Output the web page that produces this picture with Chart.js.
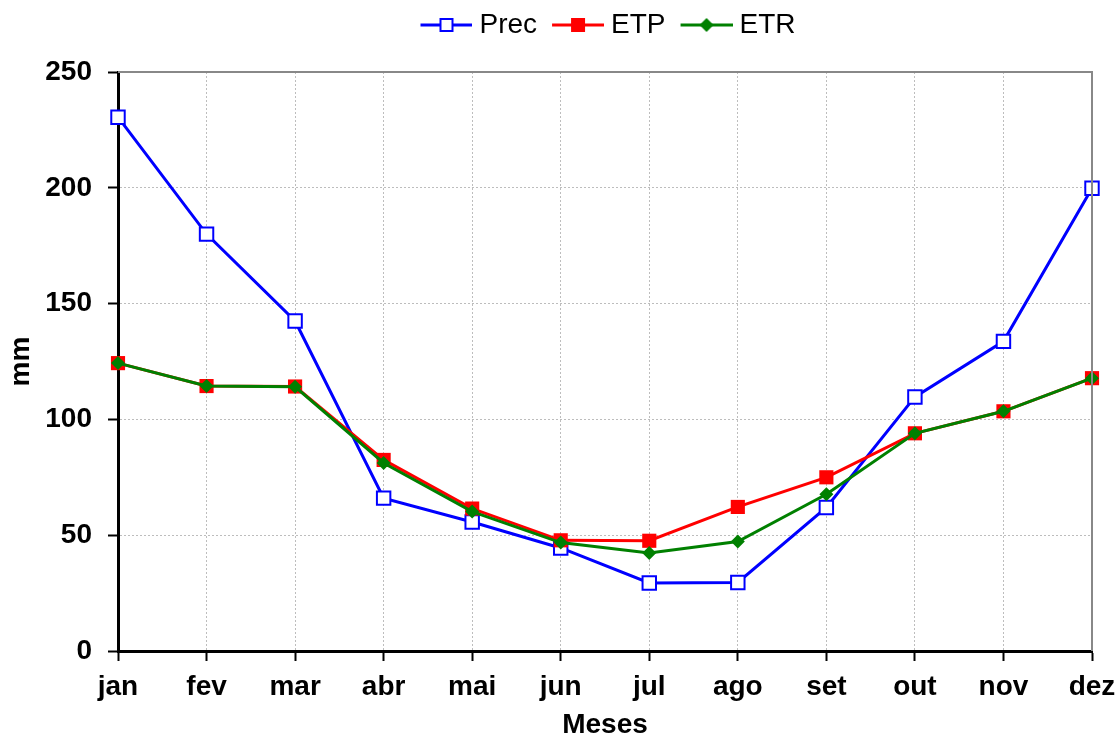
<!DOCTYPE html>
<html>
<head>
<meta charset="utf-8">
<script src="https://cdn.jsdelivr.net/npm/chart.js@4"></script>
<style>
  html, body { margin: 0; padding: 0; background: #fff; }
  #wrap { width: 1118px; height: 738px; }
</style>
</head>
<body>
<div id="wrap"><canvas id="chart" width="1118" height="738"></canvas></div>
<script>
// Months and monthly values (mm)
const months = ['jan', 'fev', 'mar', 'abr', 'mai', 'jun', 'jul', 'ago', 'set', 'out', 'nov', 'dez'];
const precValues = [230.5, 180, 142.5, 66, 55.7, 44.5, 29.4, 29.6, 62, 109.7, 133.7, 199.8];
const etpValues = [124.3, 114.4, 114.2, 82.5, 61.5, 47.8, 47.6, 62.2, 75, 94, 103.5, 117.8];
const etrValues = [124.3, 114.4, 114.1, 81.2, 60.2, 46.8, 42.3, 47.3, 67.7, 94, 103.5, 117.8];
const yTicks = [0, 50, 100, 150, 200, 250];

// Helper to build a legend symbol (line through a marker), with some blank room on the left
function legendIcon(color, kind) {
    const c = document.createElement('canvas');
    c.width = 63;
    c.height = 20;
    const ctx = c.getContext('2d');
    ctx.strokeStyle = color;
    ctx.lineWidth = 3;
    ctx.beginPath();
    ctx.moveTo(11, 10);
    ctx.lineTo(63, 10);
    ctx.stroke();
    if (kind === 'open') {
        ctx.fillStyle = '#fff';
        ctx.fillRect(31, 4, 12, 12);
        ctx.lineWidth = 2;
        ctx.strokeRect(31, 4, 12, 12);
    } else if (kind === 'square') {
        ctx.fillStyle = color;
        ctx.fillRect(30, 3, 14, 14);
    } else {
        ctx.fillStyle = color;
        ctx.beginPath();
        ctx.moveTo(37, 3);
        ctx.lineTo(44, 10);
        ctx.lineTo(37, 17);
        ctx.lineTo(30, 10);
        ctx.closePath();
        ctx.fill();
    }
    return c;
}

const icons = [legendIcon('#0000ff', 'open'), legendIcon('#ff0000', 'square'), legendIcon('#008000', 'diamond')];

// Gray frame on top and right, fixed legend height and offset
const framePlugin = {
    id: 'frame',
    beforeUpdate(chart) {
        const lg = chart.legend;
        if (lg && !lg._patched) {
            const fit = lg.fit.bind(lg);
            lg.fit = function () { fit(); this.height = 72; };
            const draw = lg.draw.bind(lg);
            lg.draw = function () {
                this.ctx.save();
                this.ctx.translate(60, 0);
                draw();
                this.ctx.restore();
            };
            lg._patched = true;
        }
    },
    afterDraw(chart) {
        const a = chart.chartArea;
        const ctx = chart.ctx;
        ctx.save();
        ctx.strokeStyle = '#888';
        ctx.lineWidth = 2;
        ctx.beginPath();
        ctx.moveTo(a.left, a.top);
        ctx.lineTo(a.right, a.top);
        ctx.lineTo(a.right, a.bottom);
        ctx.stroke();
        ctx.restore();
    }
};

const tickFont = { family: 'Liberation Sans, Arial, sans-serif', size: 28, weight: 'bold' };

new Chart(document.getElementById('chart').getContext('2d'), {
    type: 'line',
    data: {
        labels: months,
        datasets: [
            {
                label: 'Prec',
                data: precValues,
                borderColor: '#0000ff',
                backgroundColor: '#ffffff',
                borderWidth: 3,
                pointStyle: 'rect',
                pointRadius: 9.5,
                pointBorderWidth: 2,
                pointBorderColor: '#0000ff',
                pointBackgroundColor: '#ffffff',
                tension: 0,
                order: 2
            },
            {
                label: 'ETP',
                data: etpValues,
                borderColor: '#ff0000',
                backgroundColor: '#ff0000',
                borderWidth: 3,
                pointStyle: 'rect',
                pointRadius: 10,
                pointBorderWidth: 0,
                pointBackgroundColor: '#ff0000',
                tension: 0,
                order: 1
            },
            {
                label: 'ETR',
                data: etrValues,
                borderColor: '#008000',
                backgroundColor: '#008000',
                borderWidth: 3,
                pointStyle: 'rectRot',
                pointRadius: 7,
                pointBorderWidth: 0,
                pointBackgroundColor: '#008000',
                tension: 0,
                order: 0
            }
        ]
    },
    options: {
        responsive: false,
        animation: false,
        layout: { padding: { top: 0, right: 26, bottom: 0, left: 0 } },
        plugins: {
            legend: {
                display: true,
                position: 'top',
                labels: {
                    usePointStyle: true,
                    pointStyleWidth: 49,
                    padding: 11,
                    color: '#000',
                    font: { family: 'Liberation Sans, Arial, sans-serif', size: 28 },
                    generateLabels(chart) {
                        return chart.data.datasets.map((ds, i) => ({
                            text: ds.label,
                            pointStyle: icons[i],
                            datasetIndex: i,
                            fontColor: '#000',
                            lineWidth: 0,
                            hidden: false
                        }));
                    }
                }
            },
            tooltip: { enabled: false }
        },
        scales: {
            x: {
                offset: false,
                afterFit(scale) {
                    scale.height = 87;
                    scale.paddingLeft = 0;
                    scale.paddingRight = 0;
                },
                grid: {
                    color: '#bdbdbd',
                    tickColor: '#000',
                    tickLength: 10,
                    tickWidth: 2,
                    tickBorderDash: []
                },
                border: { color: '#000', width: 3, dash: [2, 2] },
                ticks: { color: '#000', font: tickFont, padding: 9, maxRotation: 0 },
                title: {
                    display: true,
                    text: 'Meses',
                    color: '#000',
                    font: { family: 'Liberation Sans, Arial, sans-serif', size: 28, weight: 'bold', lineHeight: 0.9 },
                    padding: { top: 0, bottom: 0 }
                }
            },
            y: {
                min: 0,
                max: 250,
                afterFit(scale) { scale.width = 118; },
                afterBuildTicks(scale) { scale.ticks = yTicks.map(v => ({ value: v })); },
                grid: {
                    color: '#bdbdbd',
                    tickColor: '#000',
                    tickLength: 10,
                    tickWidth: 2,
                    tickBorderDash: []
                },
                border: { color: '#000', width: 3, dash: [2, 2] },
                ticks: { color: '#000', font: tickFont, padding: 16 },
                title: {
                    display: true,
                    text: 'mm',
                    color: '#000',
                    font: tickFont,
                    padding: { top: 4, bottom: 0 }
                }
            }
        }
    },
    plugins: [framePlugin]
});
</script>
</body>
</html>
